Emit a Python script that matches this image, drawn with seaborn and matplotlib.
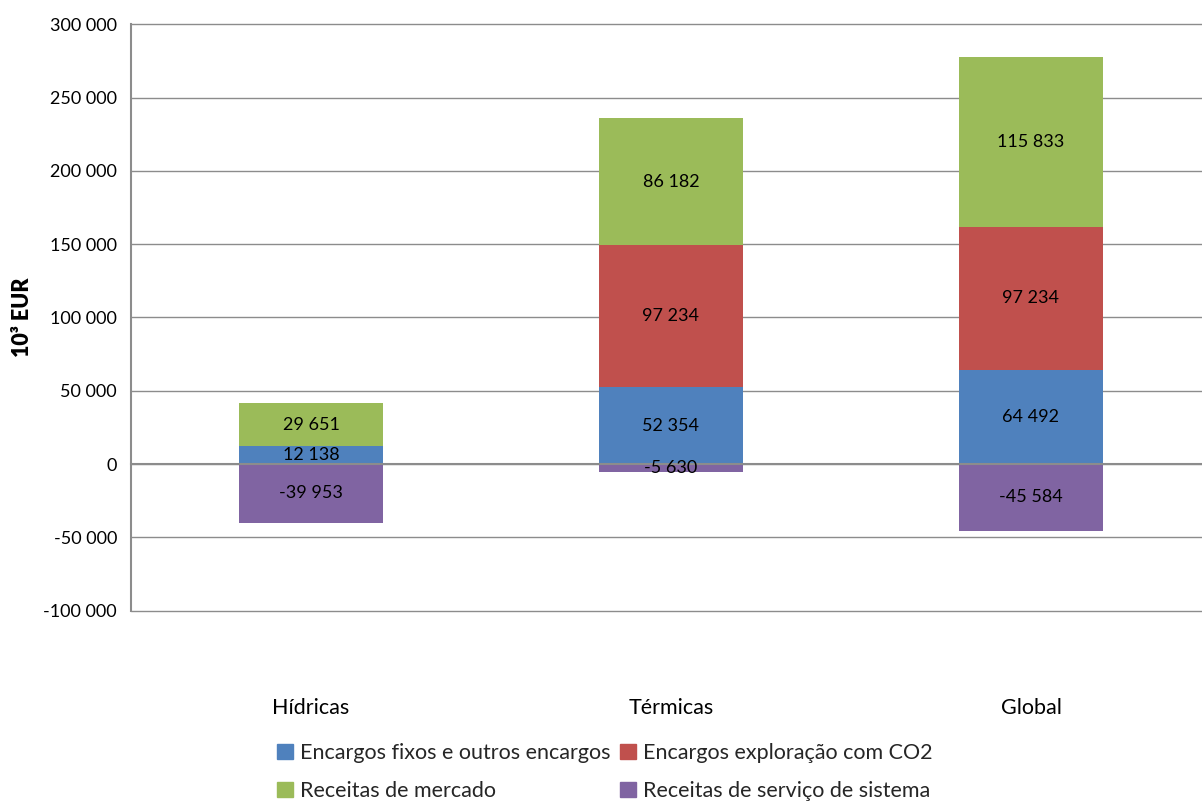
import matplotlib
matplotlib.use("Agg")
import matplotlib.pyplot as plt
import matplotlib.patches as mpatches
from matplotlib.transforms import blended_transform_factory
from matplotlib.ticker import FuncFormatter
import seaborn as sns

# Data (10^3 EUR)
categories = ["Hídricas", "Térmicas", "Global"]
encargos_fixos = [12138, 52354, 64492]
encargos_exploracao = [0, 97234, 97234]
receitas_mercado = [29651, 86182, 115833]
receitas_servico = [-39953, -5630, -45584]

series_names = [
    "Encargos fixos e outros encargos",
    "Encargos exploração com CO2",
    "Receitas de mercado",
    "Receitas de serviço de sistema",
]
colors = ["#4F81BD", "#C0504D", "#9BBB59", "#8064A2"]

sns.set_style("white")
plt.rcParams["font.family"] = ["Lato", "DejaVu Sans"]
FS_NUM = 13      # tick labels and value labels
FS_TXT = 15.5    # category labels, legend, axis title
grid_col = "#8c8c8c"

fig = plt.figure(figsize=(12.02, 8.01), dpi=100)
ax = fig.add_axes([131 / 1202, 190.3 / 801, 1080 / 1202, 586.5 / 801])

# cumulative tops of the positive stack
lvl1 = encargos_fixos
lvl2 = [a + b for a, b in zip(lvl1, encargos_exploracao)]
lvl3 = [a + b for a, b in zip(lvl2, receitas_mercado)]

bw = 0.4
bar_kw = dict(saturation=1, width=bw, errorbar=None, ax=ax,
              edgecolor="none", linewidth=0)
sns.barplot(x=categories, y=lvl3, color=colors[2], **bar_kw)
sns.barplot(x=categories, y=lvl2, color=colors[1], **bar_kw)
sns.barplot(x=categories, y=lvl1, color=colors[0], **bar_kw)
sns.barplot(x=categories, y=receitas_servico, color=colors[3], **bar_kw)

ax.set_xlim(-0.5, 2.5)
ax.set_ylim(-100000, 300000)
ax.set_yticks(range(-100000, 300001, 50000))
ax.yaxis.set_major_formatter(
    FuncFormatter(lambda v, p: f"{int(v):,}".replace(",", " ")))

# Value labels centred in each segment
def fmt(v):
    return f"{v:,}".replace(",", " ")

for i in range(len(categories)):
    segs = [
        (0, encargos_fixos[i]),
        (lvl1[i], encargos_exploracao[i]),
        (lvl2[i], receitas_mercado[i]),
        (0, receitas_servico[i]),
    ]
    for base, val in segs:
        if val == 0:
            continue
        ax.text(i, base + val / 2, fmt(val), ha="center", va="center",
                fontsize=FS_NUM, color="black", zorder=5)

# Grid and axes styling
ax.set_axisbelow(True)
ax.yaxis.grid(True, color=grid_col, lw=1.0)
for gl in ax.get_ygridlines():
    gl.set_clip_on(False)
ax.xaxis.grid(False)
for s in ["top", "right"]:
    ax.spines[s].set_visible(False)
ax.spines["left"].set_color(grid_col)
ax.spines["left"].set_linewidth(1.5)
ax.spines["bottom"].set_position(("data", 0))
ax.spines["bottom"].set_color(grid_col)
ax.spines["bottom"].set_linewidth(1.5)

ax.tick_params(axis="y", which="major", length=6, width=1, color=grid_col,
               direction="out", labelsize=FS_NUM, labelcolor="black", pad=4)
ax.set_xticks([0, 1, 2])
ax.tick_params(axis="x", which="major", length=0, labelbottom=False)
ax.set_xticks([-0.5, 0.5, 1.5, 2.5], minor=True)
ax.tick_params(axis="x", which="minor", length=6, width=1, color=grid_col,
               direction="out")
ax.set_xlabel("")

# Category labels below the plot area
trans = blended_transform_factory(ax.transData, ax.transAxes)
for i, cat in enumerate(categories):
    ax.text(i, -0.166, cat, transform=trans, ha="center", va="center",
            fontsize=FS_TXT, color="black")

ax.set_ylabel("10³ EUR", fontsize=FS_TXT, fontweight="heavy", color="black")
ax.yaxis.set_label_coords(-98 / 1080, 0.5)

# Legend laid out row by row
handles = [mpatches.Patch(color=c) for c in colors]
order = [0, 2, 1, 3]
fig.legend([handles[k] for k in order], [series_names[k] for k in order],
           ncol=2, loc="center", bbox_to_anchor=(0.503, 0.036),
           frameon=False, fontsize=FS_TXT, handlelength=0.75,
           handleheight=0.7, handletextpad=0.3, columnspacing=0.45,
           labelspacing=0.85)

fig.savefig("out.png", dpi=100)
